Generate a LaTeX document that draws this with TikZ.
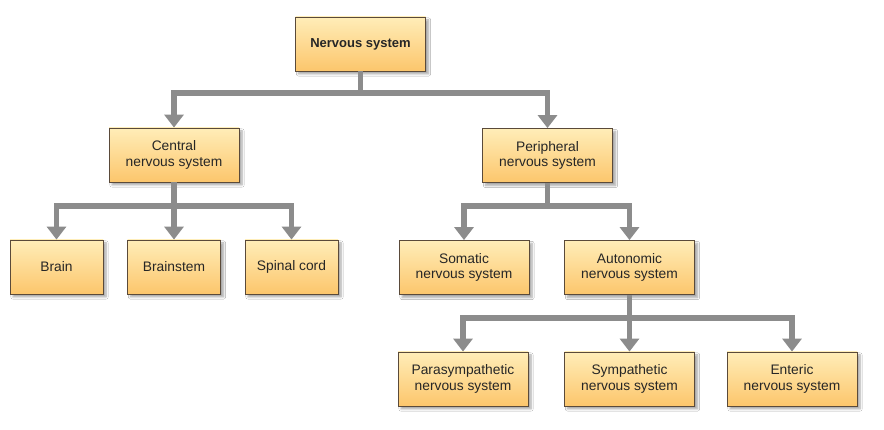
\documentclass[tikz,border=0pt]{standalone}
\usepackage{fontspec}
\setmainfont{Liberation Sans}
\usetikzlibrary{arrows.meta,shadows.blur}
\definecolor{boxtop}{HTML}{FFEDB8}
\definecolor{boxbot}{HTML}{FCC66C}
\definecolor{boxline}{HTML}{5A4A3A}
\definecolor{conn}{HTML}{8C8C8C}
\tikzset{
  box/.style={draw=boxline, line width=0.8pt, top color=boxtop, bottom color=boxbot,
    minimum width=130pt, minimum height=54pt, align=center, inner sep=2pt,
    font=\fontsize{13.8}{15.5}\selectfont\color{black!85},
    blur shadow={shadow xshift=3pt, shadow yshift=-3pt, shadow blur steps=6, shadow opacity=35}},
  smallbox/.style={box, minimum width=93pt},
  line/.style={draw=conn, line width=5.5pt},
  arr/.style={line, -{Triangle[width=19pt,length=13pt]}, line join=miter}
}
\begin{document}
\begin{tikzpicture}[x=1pt,y=1pt]
\useasboundingbox[fill=white] (0,0) rectangle (884,430);
\node[box, font=\fontsize{13}{15}\selectfont\bfseries\color{black!85}] (ns) at (360.5,386) {Nervous system};
\node[box] (cns) at (174,275) {Central\\nervous system};
\node[box] (pns) at (547.5,274.5) {Peripheral\\nervous system};
\node[smallbox] (brain) at (56.5,163) {Brain};
\node[smallbox] (bstem) at (174,163) {Brainstem};
\node[smallbox] (spinal) at (291.5,163) {Spinal cord};
\node[box] (som) at (464,162.5) {Somatic\\nervous system};
\node[box] (aut) at (629.5,162.5) {Autonomic\\nervous system};
\node[box] (para) at (463,51) {Parasympathetic\\nervous system};
\node[box] (symp) at (629.5,51) {Sympathetic\\nervous system};
\node[box] (ent) at (792,51) {Enteric\\nervous system};
% connectors
\coordinate (j1) at (360.5,337);
\draw[line] (ns.south) -- (j1);
\draw[arr] (j1) -| (cns.north);
\draw[arr] (j1) -| (pns.north);
\coordinate (j2) at (174,224);
\draw[line] (cns.south) -- (j2);
\draw[arr] (j2) -| (brain.north);
\draw[arr] (j2) -- (bstem.north);
\draw[arr] (j2) -| (spinal.north);
\coordinate (j3) at (547.5,224);
\draw[line] (pns.south) -- (j3);
\draw[arr] (j3) -| (som.north);
\draw[arr] (j3) -| (aut.north);
\coordinate (j4) at (629.5,112);
\draw[line] (aut.south) -- (j4);
\draw[arr] (j4) -| (para.north);
\draw[arr] (j4) -- (symp.north);
\draw[arr] (j4) -| (ent.north);
\end{tikzpicture}
\end{document}
